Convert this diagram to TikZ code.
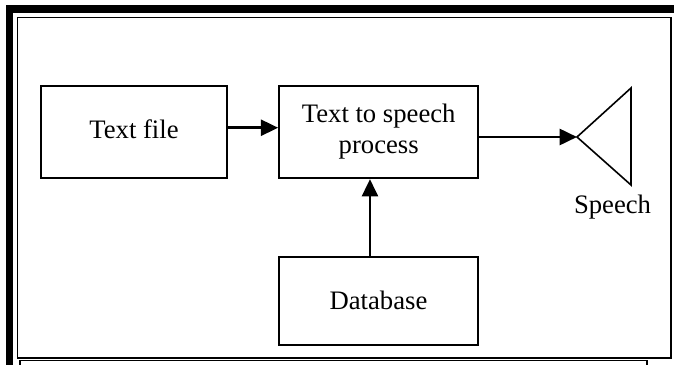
\documentclass[tikz,border=0pt]{standalone}
\usepackage{fontspec}
\setmainfont{Liberation Serif}
\usetikzlibrary{arrows.meta}

\tikzset{
    blk/.style={draw,line width=1.5pt,inner sep=0pt,align=center,font=\fontsize{20}{23.3}\selectfont},
    arr/.style={line width=2pt,-{Triangle[length=13pt,width=12pt]}},
}

\begin{document}
\begin{tikzpicture}[x=0.75pt,y=-0.75pt]
    \useasboundingbox (0,0) rectangle (674,364);
    \draw[line width=5.6pt] (9.3,380) -- (9.3,9.2) -- (690,9.2);
    \draw[line width=1.3pt] (17.5,358) rectangle (671.3,17.5);
    \draw[line width=1.1pt] (20,380) -- (20,360.5) -- (647,360.5) -- (647,380);

    \node[blk,minimum width=140pt,minimum height=69.2pt,text depth=0.4em] (tf) at (134,132) {Text file};
    \node[blk,minimum width=149.3pt,minimum height=69.2pt] (proc) at (378.7,132) {Text to speech\\process};
    \node[blk,minimum width=149.3pt,minimum height=66.2pt] (db) at (378.5,300.8) {Database};

    \coordinate (spk) at (577,137);
    \draw[line width=1.2pt] (spk) -- (631,88) -- (631,185) -- cycle;
    \node[font=\fontsize{20}{23.3}\selectfont] (sp) at (612.5,206.8) {Speech};

    \path ([yshift=3.2pt]tf.east) coordinate (a1);
    \draw[arr] (a1) -- (a1 -| proc.west);
    \draw[arr] (proc.east |- spk) -- (spk);
    \path ([xshift=-6.4pt]db.north) coordinate (a3);
    \draw[arr] (a3) -- (a3 |- proc.south);
\end{tikzpicture}
\end{document}
